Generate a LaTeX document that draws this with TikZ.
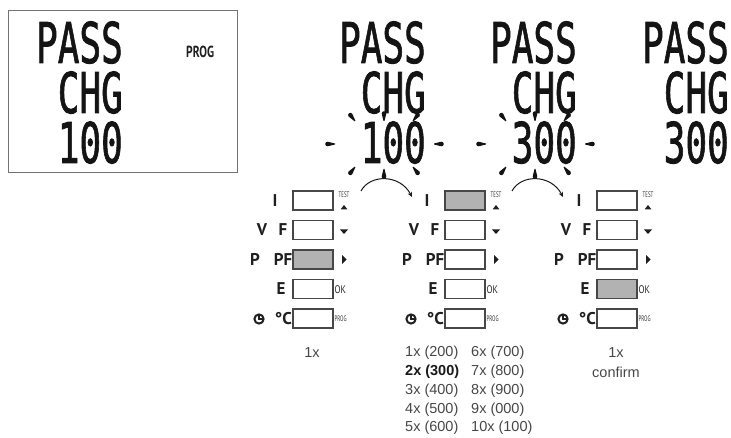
\documentclass[tikz,border=0pt]{standalone}
\usepackage{fontspec}
\setmainfont{Liberation Sans}
\newfontfamily\lcdfont{DejaVu Sans Mono}[FakeBold=1.6]
\newfontfamily\labfont{PT Sans}
\usetikzlibrary{arrows.meta}
\newcommand\lcdt[1]{\scalebox{1.0}[1.56]{\lcdfont\fontsize{36}{36}\selectfont #1}}
\newcommand\tinyt[1]{\scalebox{0.62}[1]{\labfont\fontsize{8}{8}\selectfont #1}}
\begin{document}
\begin{tikzpicture}[x=1pt,y=-1pt,
  lcd/.style={anchor=base east,inner sep=0,text=black!92,text height=41pt,text depth=0pt},
  btn/.style={draw=black!72,line width=1.4,minimum width=40,minimum height=19,inner sep=0,fill=white},
  pressed/.style={btn,fill=black!30},
  lab/.style={font=\labfont\bfseries\fontsize{17}{17}\selectfont,inner sep=0,anchor=base,text=black!88},
  note/.style={font=\fontsize{14.5}{14.5}\selectfont,inner sep=0,text=black!72},
  ray/.pic={\fill[black!92] (0,-0.5) -- (7.5,-2.3) arc[start angle=-90,end angle=90,radius=2.3] -- (0,0.5) -- cycle;},
  arc/.style={line width=1,black!90,-{Stealth[length=5,width=4.5]}},
  tri/.style={fill=black!88}]
\useasboundingbox (0,0) rectangle (731,438);

% first display (framed)
\node[draw=black!55,line width=0.9,minimum width=229,minimum height=162,inner sep=0,anchor=north west] (d1) at (8,10) {};
\node[lcd] (d1a) at (123,63) {\lcdt{PASS}};
\node[lcd] (d1b) at (123,113) {\lcdt{CHG}};
\node[lcd] (d1c) at (123,163) {\lcdt{100}};
\node[inner sep=0,anchor=base west,text=black!88] (d1p) at (186,58) {\scalebox{0.72}[1]{\labfont\bfseries\fontsize{16}{16}\selectfont PROG}};

% displays 2,3,4
\node[lcd] (d2a) at (426,63) {\lcdt{PASS}};
\node[lcd] (d2b) at (426,113) {\lcdt{CHG}};
\node[lcd] (d2c) at (426,163) {\lcdt{100}};
\node[lcd] (d3a) at (577,63) {\lcdt{PASS}};
\node[lcd] (d3b) at (577,113) {\lcdt{CHG}};
\node[lcd] (d3c) at (577,163) {\lcdt{300}};
\node[lcd] (d4a) at (729,63) {\lcdt{PASS}};
\node[lcd] (d4b) at (729,113) {\lcdt{CHG}};
\node[lcd] (d4c) at (729,163) {\lcdt{300}};

% blinking rays
\foreach \dx in {0,151}{
  \begin{scope}[xshift=\dx]
    \pic[rotate=180] at (335,144) {ray};
    \pic[rotate=0]   at (434,144) {ray};
    \pic[rotate=128] at (355,121) {ray};
    \pic[rotate=90]  at (384,121) {ray};
    \pic[rotate=52]  at (413,121) {ray};
    \pic[rotate=232] at (355,167) {ray};
    \pic[rotate=270] at (384,169) {ray};
    \pic[rotate=308] at (413,167) {ray};
  \end{scope}
}

% arcs
\coordinate (a1s) at (361,191);
\coordinate (a1e) at (412,197);
\coordinate (a2s) at (512,191);
\coordinate (a2e) at (563,197);
\draw[arc] (a1s) .. controls (370,174) and (400,174) .. (a1e);
\draw[arc] (a2s) .. controls (521,174) and (551,174) .. (a2e);

% button columns
\foreach \c/\dx in {1/0,2/152,3/304}{
  \begin{scope}[xshift=\dx]
    \node[btn] (b\c r1) at (313,200.5) {};
    \node[btn] (b\c r2) at (313,230) {};
    \node[btn] (b\c r3) at (313,259.5) {};
    \node[btn] (b\c r4) at (313,289) {};
    \node[btn] (b\c r5) at (313,318.5) {};
    \node[lab] (l\c i) at (275,206.5) {I};
    \node[lab] (l\c v) at (262,236) {V};
    \node[lab] (l\c f) at (283,236) {F};
    \node[lab] (l\c p) at (255,265.5) {P};
    \node[lab,anchor=base east] (l\c pf) at (292.5,265.5) {PF};
    \node[lab] (l\c e) at (281,295) {E};
    \node[lab,anchor=base east] (l\c c) at (292,324.5) {°C};
    \draw[line width=2,black!88] (259,319) circle[radius=4.6];
    \draw[line width=1.3,black!88] (259,315) -- (259,319) -- (262.5,319);
    \node[inner sep=0,text=black!80] (t\c test) at (344,195) {\tinyt{TEST}};
    \fill[tri] (340.5,209.5) -- (347.5,209.5) -- (344,205) -- cycle;
    \fill[tri] (340,229.5) -- (348,229.5) -- (344,234) -- cycle;
    \fill[tri] (342,255) -- (342,264) -- (346.5,259.5) -- cycle;
    \node[inner sep=0,anchor=west,text=black!85] (t\c ok) at (334.5,289.5) {\scalebox{0.8}[1]{\labfont\fontsize{11}{11}\selectfont OK}};
    \node[inner sep=0,anchor=west,text=black!80] (t\c prog) at (334.5,319) {\tinyt{PROG}};
  \end{scope}
}
\node[pressed] (p1) at (b1r3) {};
\node[pressed] (p2) at (b2r1) {};
\node[pressed] (p3) at (b3r4) {};

% notes
\node[note] (n1) at (312,353) {1x};
\node[note] (n3a) at (616,353) {1x};
\node[note] (n3b) at (616,372) {confirm};
\node[note,anchor=west] (m1) at (405,353) {1x (200)};
\node[note,anchor=west,font=\bfseries\fontsize{14.5}{14.5}\selectfont,text=black!90] (m2) at (405,372) {2x (300)};
\node[note,anchor=west] (m3) at (405,391) {3x (400)};
\node[note,anchor=west] (m4) at (405,410) {4x (500)};
\node[note,anchor=west] (m5) at (405,428) {5x (600)};
\node[note,anchor=west] (m6) at (471,353) {6x (700)};
\node[note,anchor=west] (m7) at (471,372) {7x (800)};
\node[note,anchor=west] (m8) at (471,391) {8x (900)};
\node[note,anchor=west] (m9) at (471,410) {9x (000)};
\node[note,anchor=west] (m10) at (471,428) {10x (100)};
\end{tikzpicture}
\end{document}
